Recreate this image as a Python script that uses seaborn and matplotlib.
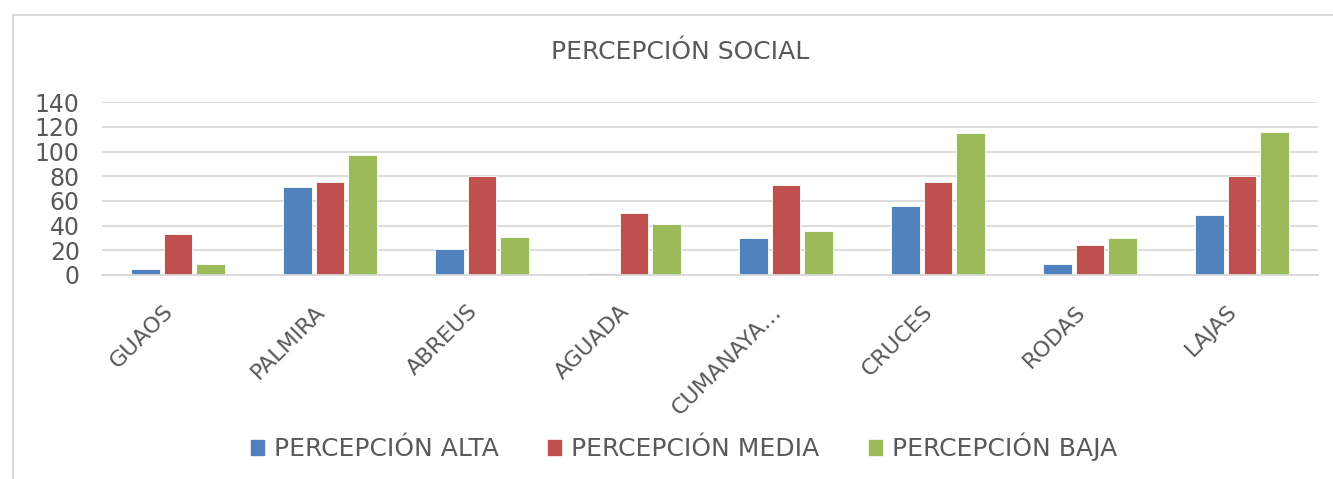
import matplotlib
matplotlib.use('Agg')
import matplotlib.pyplot as plt
from matplotlib.patches import Rectangle
from matplotlib.transforms import ScaledTranslation
import pandas as pd
import seaborn as sns

municipios = ['GUAOS', 'PALMIRA', 'ABREUS', 'AGUADA', 'CUMANAYA…',
              'CRUCES', 'RODAS', 'LAJAS']
series = ['PERCEPCIÓN ALTA', 'PERCEPCIÓN MEDIA', 'PERCEPCIÓN BAJA']
alta = [5, 71, 21, 2, 30, 56, 9, 49]
media = [33, 75, 80, 50, 73, 75, 24, 80]
baja = [9, 97, 31, 41, 36, 115, 30, 116]
colores = ['#4F81BD', '#C0504D', '#9BBB59']
gris = '#595959'

df = pd.DataFrame({
    'municipio': municipios * 3,
    'serie': [s for s in series for _ in municipios],
    'valor': alta + media + baja,
})

sns.set_theme(style='white')
plt.rcParams['font.family'] = ['DejaVu Sans']

fig = plt.figure(figsize=(13.33, 4.79), dpi=100)
ax = fig.add_axes([102 / 1333, 1 - 275 / 479, (1318 - 102) / 1333, (275 - 102.3) / 479])

sns.barplot(data=df, x='municipio', y='valor', hue='serie', palette=colores,
            saturation=1, width=0.64, gap=0.13, edgecolor='white',
            linewidth=0.6, ax=ax, legend=False)

ax.set_ylim(0, 140)
ax.set_yticks(range(0, 141, 20))
ax.set_xlim(-0.5, len(municipios) - 0.5)
ax.yaxis.grid(True, color='#D9D9D9', linewidth=1.3)
ax.set_axisbelow(True)
for s in ['top', 'right', 'left']:
    ax.spines[s].set_visible(False)
ax.spines['bottom'].set_color('#D9D9D9')
ax.spines['bottom'].set_linewidth(1.3)
ax.set_xlabel('')
ax.set_ylabel('')
ax.tick_params(axis='both', length=0, colors=gris)
ax.tick_params(axis='y', pad=16, labelsize=17)
ax.tick_params(axis='x', pad=6, labelsize=16)
desplaza = ScaledTranslation(-0.15, -0.18, fig.dpi_scale_trans)
for lbl in ax.get_xticklabels():
    lbl.set_rotation(45)
    lbl.set_ha('right')
    lbl.set_rotation_mode('anchor')
    lbl.set_transform(lbl.get_transform() + desplaza)

fig.text(0.51, 1 - 52 / 479, 'PERCEPCIÓN SOCIAL', ha='center', va='center',
         fontsize=18, color=gris)

handles = [Rectangle((0, 0), 1, 1, color=c) for c in colores]
fig.legend(handles, series, loc='center', bbox_to_anchor=(684 / 1333, 1 - 447 / 479),
           ncol=3, frameon=False, fontsize=18, labelcolor=gris,
           handlelength=0.5, handleheight=0.5, handletextpad=0.4,
           columnspacing=2.0)

fig.patches.append(Rectangle((13 / 1333, -0.1), 1.2, 1.1 - 15 / 479,
                             transform=fig.transFigure, fill=False,
                             edgecolor='#D9D9D9', linewidth=1.5))

fig.savefig('out.png', dpi=100)
